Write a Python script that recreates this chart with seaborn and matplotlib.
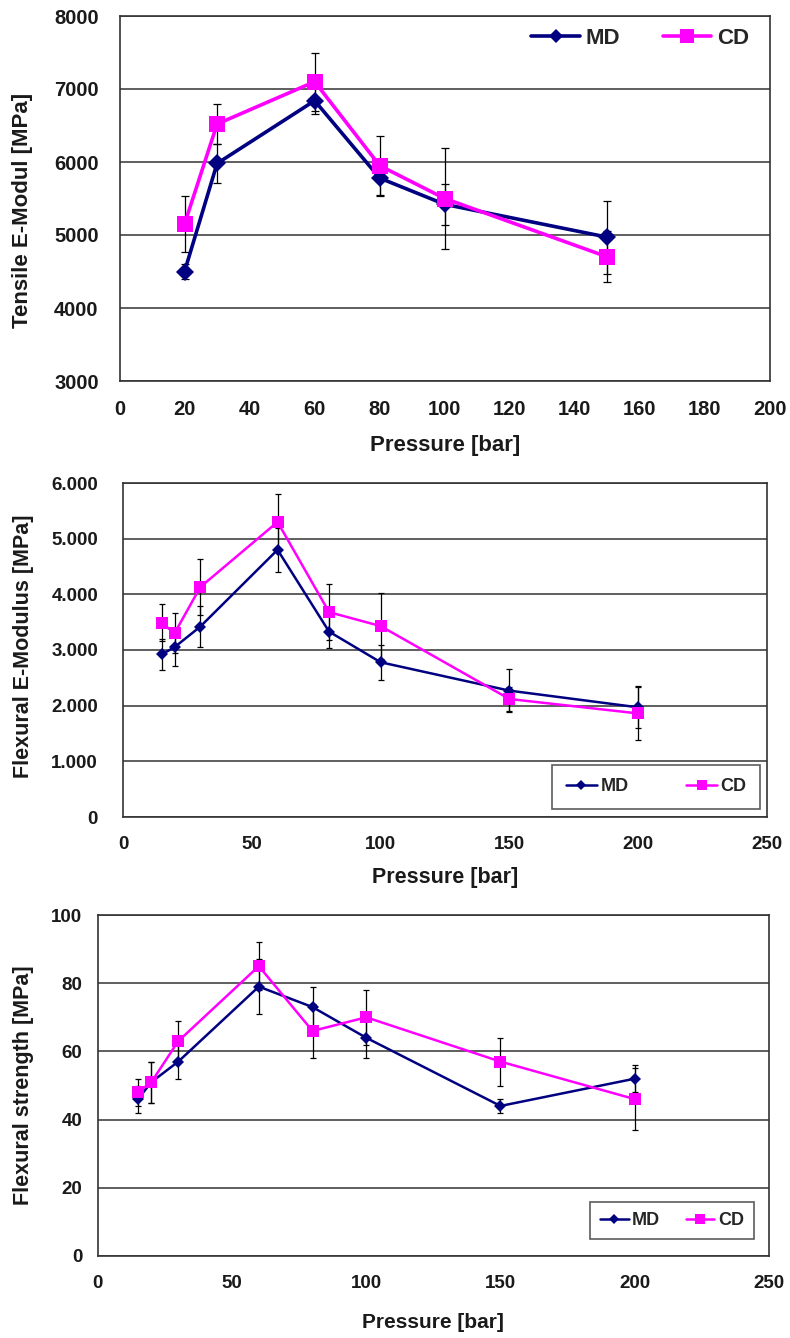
import numpy as np
import pandas as pd
import seaborn as sns
import matplotlib.pyplot as plt
from matplotlib.ticker import FuncFormatter

# tensile E-modulus
p_tens = [20, 30, 60, 80, 100, 150]
tens_md = [4500, 5980, 6840, 5780, 5420, 4970]
tens_md_err = [100, 270, 180, 250, 280, 500]
tens_cd = [5150, 6520, 7100, 5950, 5500, 4700]
tens_cd_err = [380, 280, 400, 400, 690, 350]

# flexural E-modulus
p_flex = [15, 20, 30, 60, 80, 100, 150, 200]
fmod_md = [2920, 3050, 3420, 4800, 3330, 2780, 2270, 1970]
fmod_md_err = [280, 330, 370, 400, 300, 310, 380, 380]
fmod_cd = [3490, 3300, 4130, 5300, 3680, 3430, 2120, 1860]
fmod_cd_err = [330, 360, 510, 500, 500, 590, 220, 480]

# flexural strength
fstr_md = [46, 51, 57, 79, 73, 64, 44, 52]
fstr_md_err = [4, 6, 5, 8, 6, 6, 2, 4]
fstr_cd = [48, 51, 63, 85, 66, 70, 57, 46]
fstr_cd_err = [4, 6, 6, 7, 8, 8, 7, 9]

NAVY = "#000080"
MAGENTA = "#FF00FF"
INK = "#333333"

sns.set_style("white")
plt.rcParams["font.family"] = ["Liberation Sans", "DejaVu Sans"]
plt.rcParams["font.weight"] = "bold"

fig = plt.figure(figsize=(7.9, 13.38), dpi=100)
H = 1338.0
W = 790.0


def add(l, r, t, b):
    return fig.add_axes([l / W, (H - b) / H, (r - l) / W, (b - t) / H])


def panel(ax, x, md, md_err, cd, cd_err, st):
    df = pd.DataFrame({
        "x": list(x) * 2,
        "y": list(md) + list(cd),
        "s": ["MD"] * len(x) + ["CD"] * len(x),
    })
    for yv, err in [(md, md_err), (cd, cd_err)]:
        ax.errorbar(x, yv, yerr=err, fmt="none", ecolor="black",
                    elinewidth=0.9, capsize=st["cap"], capthick=0.9, zorder=2)
    sns.lineplot(data=df, x="x", y="y", hue="s", style="s",
                 palette={"MD": NAVY, "CD": MAGENTA},
                 markers={"MD": "D", "CD": "s"}, dashes=False,
                 markeredgewidth=0, linewidth=st["lw"], sort=False,
                 ax=ax, zorder=3, legend="auto")
    for ln in ax.get_lines():
        if ln.get_marker() == "D":
            ln.set_markersize(st["ms_d"])
        elif ln.get_marker() == "s":
            ln.set_markersize(st["ms_s"])
    ax.grid(axis="y", color=INK, linewidth=1.1)
    ax.set_axisbelow(True)
    for sp in ax.spines.values():
        sp.set_color(INK)
        sp.set_linewidth(1.2)
    ax.tick_params(axis="both", direction="out", length=5, width=1,
                   color=INK, labelsize=st["tick"], labelcolor="#1a1a1a")
    ax.tick_params(axis="x", pad=st["xpad"])
    ax.tick_params(axis="y", pad=st["ypad"])
    for lab in ax.get_xticklabels() + ax.get_yticklabels():
        lab.set_fontweight("bold")
    ax.set_xlabel("Pressure [bar]", fontsize=st["xlab"], fontweight="bold",
                  color="#1a1a1a")


# panel 1
ax1 = add(119.5, 770, 16, 381)
ax1.set_xlim(0, 200)
ax1.set_ylim(3000, 8000)
ax1.set_xticks(range(0, 201, 20))
ax1.set_yticks(range(3000, 8001, 1000))
panel(ax1, p_tens, tens_md, tens_md_err, tens_cd, tens_cd_err,
      dict(cap=3, lw=2.6, ms_d=9.5, ms_s=12, tick=14.5, xpad=9, ypad=10, xlab=16))
ax1.set_ylabel("Tensile E-Modul [MPa]", fontsize=16, fontweight="bold",
               va="center", color="#1a1a1a")
ax1.yaxis.set_label_coords((23 - 119.5) / 650.5, (381 - 210) / 365.0)
ax1.xaxis.set_label_coords(0.5, -(445 - 381) / 365.0)
ax1.xaxis.label.set_va("center")
h, l = ax1.get_legend_handles_labels()
ax1.legend(h, l, loc="upper right", frameon=False, ncol=2,
           prop={"weight": "bold", "size": 16}, handlelength=2.2,
           handletextpad=0.25, columnspacing=1.9, markerscale=0.8,
           borderpad=0, borderaxespad=0,
           bbox_to_anchor=((749 - 119.5) / 650.5, (381 - 28) / 365.0))

# panel 2
ax2 = add(123, 767, 483, 817)
ax2.set_xlim(0, 250)
ax2.set_ylim(0, 6000)
ax2.set_xticks(range(0, 251, 50))
ax2.set_yticks(range(0, 6001, 1000))
panel(ax2, p_flex, fmod_md, fmod_md_err, fmod_cd, fmod_cd_err,
      dict(cap=2, lw=1.8, ms_d=6, ms_s=8, tick=13.5, xpad=9, ypad=13, xlab=15.5))
ax2.yaxis.set_major_formatter(FuncFormatter(
    lambda v, p: "0" if v == 0 else "{:,.0f}".format(v).replace(",", ".")))
ax2.set_ylabel("Flexural E-Modulus [MPa]", fontsize=15.5, fontweight="bold",
               va="center", color="#1a1a1a")
ax2.yaxis.set_label_coords((23 - 123) / 644.0, (817 - 646) / 334.0)
ax2.xaxis.set_label_coords(0.5, -(878 - 817) / 334.0)
ax2.xaxis.label.set_va("center")
h, l = ax2.get_legend_handles_labels()
leg = ax2.legend(h, l, loc="lower right", ncol=2, fancybox=False,
                 prop={"weight": "bold", "size": 13}, handlelength=1.7,
                 handletextpad=0.2, columnspacing=3.2, borderpad=0.75,
                 borderaxespad=0, markerscale=0.9, edgecolor=INK,
                 bbox_to_anchor=((760 - 123) / 644.0, (817 - 809) / 334.0))
leg.get_frame().set_linewidth(1.2)

# panel 3
ax3 = add(97.7, 769, 915, 1256)
ax3.set_xlim(0, 250)
ax3.set_ylim(0, 100)
ax3.set_xticks(range(0, 251, 50))
ax3.set_yticks(range(0, 101, 20))
panel(ax3, p_flex, fstr_md, fstr_md_err, fstr_cd, fstr_cd_err,
      dict(cap=2, lw=1.8, ms_d=6, ms_s=8, tick=13.5, xpad=9, ypad=6, xlab=15))
ax3.set_ylabel("Flexural strength [MPa]", fontsize=15.5, fontweight="bold",
               va="center", color="#1a1a1a")
ax3.yaxis.set_label_coords((23 - 97.7) / 671.3, 0.5)
ax3.xaxis.set_label_coords(0.5, -(1323 - 1256) / 341.0)
ax3.xaxis.label.set_va("center")
h, l = ax3.get_legend_handles_labels()
leg = ax3.legend(h, l, loc="lower right", ncol=2, fancybox=False,
                 prop={"weight": "bold", "size": 13}, handlelength=1.6,
                 handletextpad=0.2, columnspacing=1.4, borderpad=0.55,
                 borderaxespad=0, markerscale=0.9, edgecolor=INK,
                 bbox_to_anchor=((754 - 97.7) / 671.3, (1256 - 1239) / 341.0))
leg.get_frame().set_linewidth(1.2)

fig.savefig("out.png", dpi=100)
